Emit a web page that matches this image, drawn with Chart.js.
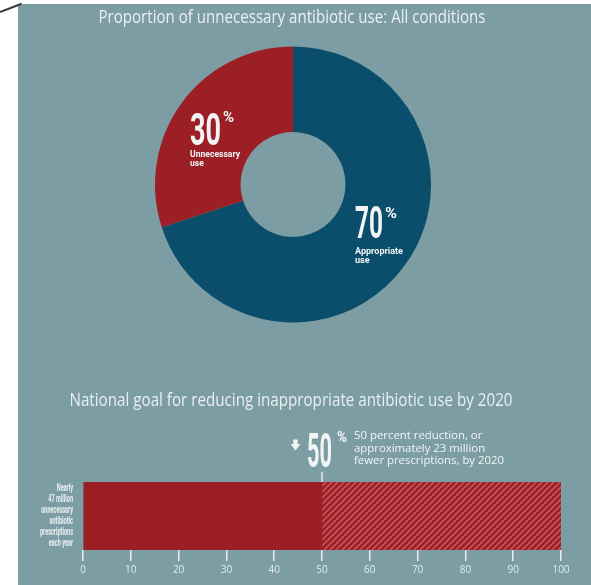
<!DOCTYPE html>
<html>
<head>
<meta charset="utf-8">
<script src="https://cdn.jsdelivr.net/npm/chart.js@4.4.1/dist/chart.umd.min.js"></script>
<style>
  body { margin: 0; background: #fff; }
  #page { position: relative; width: 591px; height: 585px; overflow: hidden; }
  #panel { position: absolute; left: 18px; top: 4px; width: 573px; height: 581px; background: #7c9da4; }
  #corner { position: absolute; left: 0; top: 11px; width: 23px; height: 1.6px; background: #3a3a3a;
            transform: rotate(-21deg); transform-origin: 0 50%; }
  canvas { position: absolute; }
</style>
</head>
<body>
<div id="page">
  <div id="panel"></div>
  <div id="corner"></div>
  <canvas id="donut" width="573" height="336" style="left:18px;top:4px"></canvas>
  <canvas id="goal" width="573" height="245" style="left:18px;top:340px"></canvas>
</div>
<script>
'use strict';

// data
let useLabels = ['Appropriate use', 'Unnecessary use'];
let useShares = [70, 30];
let goalLabel = ['Nearly', '47 million', 'unnecessary', 'antibiotic', 'prescriptions', 'each year'];
let remainingShare = [50];
let reductionShare = [50];
let reductionNote = ['50 percent reduction, or', 'approximately 23 million', 'fewer prescriptions, by 2020'];

let BLUE = '#0b4e6c';
let RED = '#9d1f26';
let TEXT = '#f2f5f6';
let TITLE = 'Open Sans';
let NUM = 'Roboto';

// draws text so its cap height and width match the picture
function textScale(ctx, text, o) {
  ctx.font = (o.weight || 400) + ' 100px ' + o.family;
  let ratio = ctx.measureText('H').actualBoundingBoxAscent / 100;
  let size = o.cap / ratio;
  ctx.font = (o.weight || 400) + ' ' + size + 'px ' + o.family;
  let tw = ctx.measureText(text).width;
  return { size: size, tw: tw, sx: o.w ? o.w / tw : (o.sx || 1) };
}

function drawText(ctx, text, o) {
  let m = textScale(ctx, text, o);
  let sx = o.sx || m.sx;
  let x0 = o.x;
  if (o.align === 'center') x0 -= m.tw * sx / 2;
  if (o.align === 'right') x0 -= m.tw * sx;
  ctx.save();
  ctx.fillStyle = o.color || TEXT;
  ctx.textAlign = 'left';
  ctx.textBaseline = 'alphabetic';
  ctx.translate(x0, o.y);
  ctx.scale(sx, 1);
  ctx.fillText(text, 0, 0);
  ctx.restore();
  return sx;
}

let donutText = {
  id: 'donutText',
  afterDraw(chart) {
    let ctx = chart.ctx;
    ctx.save();
    ctx.translate(-18, -4);
    drawText(ctx, 'Proportion of unnecessary antibiotic use: All conditions',
      { x: 292, y: 22.5, cap: 13, w: 387, align: 'center', weight: 500, family: TITLE, color: '#e9eff0' });

    drawText(ctx, '30', { x: 190, y: 144.5, cap: 31.5, w: 31, weight: 700, family: NUM });
    drawText(ctx, '%', { x: 223, y: 122, cap: 10, w: 11, weight: 700, family: NUM });
    let sx = drawText(ctx, 'Unnecessary', { x: 190, y: 157, cap: 7, w: 50, weight: 700, family: NUM });
    drawText(ctx, 'use', { x: 190, y: 165.5, cap: 7, sx: sx, weight: 700, family: NUM });

    drawText(ctx, '70', { x: 355, y: 238, cap: 31.5, w: 28, weight: 700, family: NUM });
    drawText(ctx, '%', { x: 385, y: 218, cap: 10, w: 12, weight: 700, family: NUM });
    sx = drawText(ctx, 'Appropriate', { x: 355, y: 254, cap: 7, w: 48, weight: 700, family: NUM });
    drawText(ctx, 'use', { x: 355, y: 263, cap: 7, sx: sx, weight: 700, family: NUM });
    ctx.restore();
  }
};

new Chart(document.getElementById('donut'), {
  type: 'doughnut',
  data: {
    labels: useLabels,
    datasets: [{ data: useShares, backgroundColor: [BLUE, RED], borderWidth: 0 }]
  },
  options: {
    responsive: false,
    animation: false,
    devicePixelRatio: 1,
    cutout: '38%',
    layout: { padding: { left: 0, right: 23, top: 42.5, bottom: 17.5 } },
    plugins: { legend: { display: false }, tooltip: { enabled: false } }
  },
  plugins: [donutText]
});

let goalCanvas = document.getElementById('goal');

function hatch() {
  let c = document.createElement('canvas');
  c.width = 6;
  c.height = 6;
  let g = c.getContext('2d');
  g.fillStyle = RED;
  g.fillRect(0, 0, 6, 6);
  g.strokeStyle = '#c4535a';
  g.lineWidth = 1.7;
  g.beginPath();
  g.moveTo(0, 6); g.lineTo(6, 0);
  g.moveTo(-3, 3); g.lineTo(3, -3);
  g.moveTo(3, 9); g.lineTo(9, 3);
  g.stroke();
  return goalCanvas.getContext('2d').createPattern(c, 'repeat');
}

let goalText = {
  id: 'goalText',
  afterDraw(chart) {
    let ctx = chart.ctx;
    let xs = chart.scales.x;
    let ys = chart.scales.y;
    let area = chart.chartArea;
    ctx.save();
    drawText(ctx, 'National goal for reducing inappropriate antibiotic use by 2020',
      { x: 291 - 18, y: 405.5 - 340, cap: 13.5, w: 443, align: 'center', weight: 500, family: TITLE, color: '#e9eff0' });

    // marker above the bar at the goal
    let px = xs.getPixelForValue(remainingShare[0]);
    ctx.strokeStyle = '#e8eef0';
    ctx.lineWidth = 1.5;
    ctx.beginPath();
    ctx.moveTo(px, area.top - 10);
    ctx.lineTo(px, area.top);
    ctx.stroke();

    // down arrow
    let ax = px - 26.5, ay = 439.5 - 340;
    ctx.fillStyle = TEXT;
    ctx.beginPath();
    ctx.moveTo(ax - 2.2, ay);
    ctx.lineTo(ax + 2.2, ay);
    ctx.lineTo(ax + 2.2, ay + 4.5);
    ctx.lineTo(ax + 5, ay + 4.5);
    ctx.lineTo(ax, ay + 11);
    ctx.lineTo(ax - 5, ay + 4.5);
    ctx.lineTo(ax - 2.2, ay + 4.5);
    ctx.closePath();
    ctx.fill();

    drawText(ctx, String(reductionShare[0]), { x: px - 15, y: 467 - 340, cap: 35, w: 25, weight: 700, family: NUM });
    drawText(ctx, '%', { x: px + 15, y: 442 - 340, cap: 10, w: 10, weight: 700, family: NUM });
    let sx = textScale(ctx, reductionNote[2], { cap: 8.5, w: 150, weight: 500, family: TITLE }).sx;
    reductionNote.forEach((line, i) => {
      drawText(ctx, line, { x: px + 32, y: 439 - 340 + i * 12.5, cap: 8.5, sx: sx, weight: 500, family: TITLE });
    });

    // category label, left of the bar
    let yc = ys.getPixelForValue(0);
    sx = textScale(ctx, 'prescriptions', { cap: 7.5, w: 33, weight: 800, family: NUM }).sx;
    goalLabel.forEach((line, i) => {
      drawText(ctx, line, { x: area.left - 10, y: yc - 25 + i * 11, cap: 7.5, sx: sx, weight: 800,
        family: NUM, align: 'right', color: '#e4ebed' });
    });
    ctx.restore();
  }
};

new Chart(goalCanvas, {
  type: 'bar',
  data: {
    labels: [goalLabel.join(' ')],
    datasets: [{
      label: 'Remaining after reduction',
      data: remainingShare,
      backgroundColor: RED,
      borderWidth: 0,
      barPercentage: 1,
      categoryPercentage: 1
    }, {
      label: 'Reduction goal',
      data: reductionShare,
      backgroundColor: hatch(),
      borderWidth: 0,
      barPercentage: 1,
      categoryPercentage: 1
    }]
  },
  options: {
    indexAxis: 'y',
    responsive: false,
    animation: false,
    devicePixelRatio: 1,
    layout: { padding: { left: 65, right: 30, top: 142, bottom: 0 } },
    scales: {
      x: {
        stacked: true,
        min: 0,
        max: 100,
        ticks: { stepSize: 10, color: '#e3eaec', font: { size: 10, family: TITLE }, padding: 3, maxRotation: 0 },
        grid: { drawOnChartArea: false, drawTicks: true, tickLength: 11, color: '#e8eef0', lineWidth: 1.5 },
        border: { display: false },
        afterFit: s => { s.height = 35; }
      },
      y: { stacked: true, display: false }
    },
    plugins: { legend: { display: false }, tooltip: { enabled: false } }
  },
  plugins: [goalText]
});
</script>
</body>
</html>
